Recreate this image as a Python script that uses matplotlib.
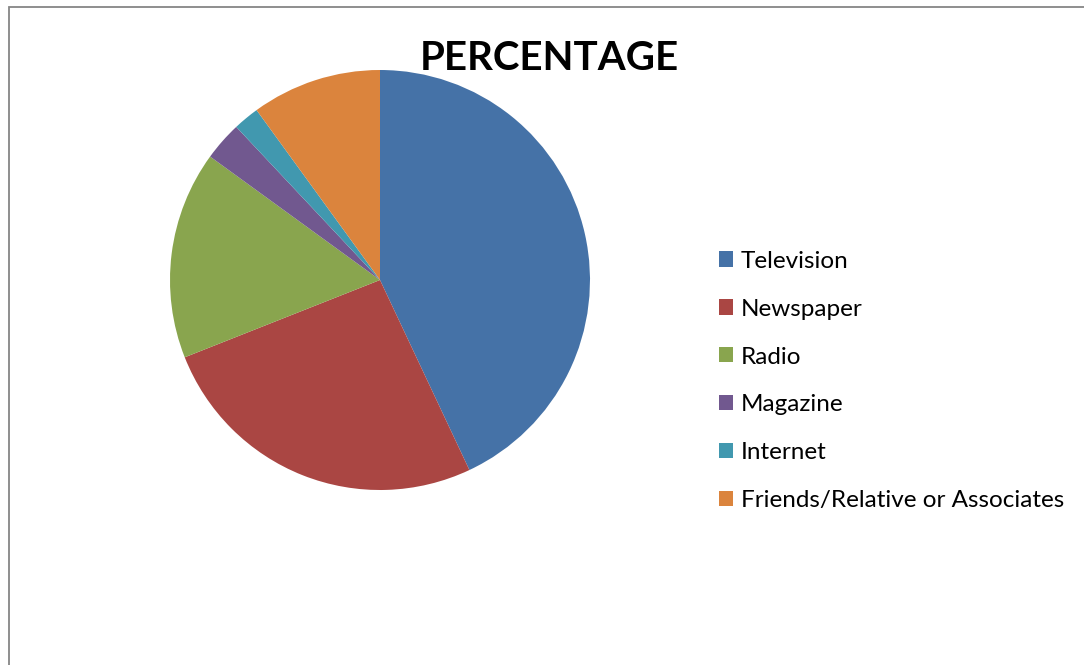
import matplotlib
matplotlib.use("Agg")
import matplotlib.pyplot as plt
from matplotlib.patches import Rectangle

plt.rcParams['font.family'] = ['Lato', 'DejaVu Sans']

labels = ['Television', 'Newspaper', 'Radio', 'Magazine', 'Internet',
          'Friends/Relative or Associates']
values = [43, 26, 16, 3, 2, 10]
colours = ['#4572A7', '#AA4643', '#89A54E', '#71588F', '#4198AF', '#DB843D']

W, H = 1084, 665
fig = plt.figure(figsize=(W / 100, H / 100), dpi=100)

# outer chart frame, runs off the right and bottom edges
fig.patches.append(Rectangle((8.5 / W, -0.05), 1.2, 1 - 7 / H + 0.05,
                             transform=fig.transFigure, fill=False,
                             edgecolor='#868686', linewidth=1.3))

# pie centred at (380, 280) px with radius 210 px
cx, cy, r = 380, 280, 210
ax = fig.add_axes([(cx - r) / W, 1 - (cy + r) / H, 2 * r / W, 2 * r / H])
wedges, _ = ax.pie(values, colors=colours, startangle=90, counterclock=False,
                   radius=1, wedgeprops=dict(linewidth=0))
ax.set_xlim(-1, 1)
ax.set_ylim(-1, 1)
ax.set_aspect('equal')
ax.axis('off')

fig.text(549 / W, 1 - 58 / H, 'PERCENTAGE', ha='center', va='center',
         fontsize=29, fontweight='bold', color='black')

fig.legend(wedges, labels, loc='center left',
           bbox_to_anchor=(719 / W, 1 - 381 / H), frameon=False,
           fontsize=17.5, handlelength=0.58, handleheight=0.58,
           handletextpad=0.33, labelspacing=1.11, borderpad=0,
           borderaxespad=0)

fig.savefig('out.png', dpi=100, facecolor='white')
